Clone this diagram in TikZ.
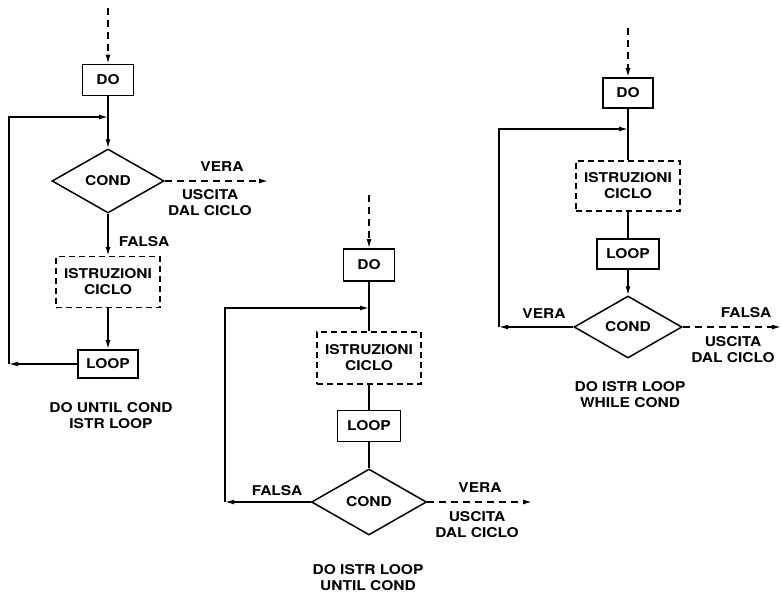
\documentclass[tikz,border=0pt]{standalone}
\usepackage{fontspec}
\newfontfamily\schemafont[FakeStretch=1.15]{TeX Gyre Heros}
\usetikzlibrary{shapes.geometric,arrows.meta}

\tikzset{
	blocco/.style={draw, line width=1.8pt, minimum width=51pt, minimum height=31pt, inner sep=0pt},
	istr/.style={draw, line width=1.5pt, dash pattern=on 6pt off 4pt, minimum width=104pt, minimum height=51pt, align=center, inner sep=0pt},
	cond/.style={draw, diamond, line width=1.5pt, minimum width=112pt, minimum height=64pt, inner sep=0pt},
	flusso/.style={line width=1.4pt},
	freccia/.style={flusso, -{Latex[length=9pt,width=5pt]}},
	tratteggio/.style={freccia, dash pattern=on 7pt off 5pt},
	etich/.style={align=center, inner sep=0pt},
}

\begin{document}
\begin{tikzpicture}[x=1pt, y=-1pt, font=\schemafont\bfseries\fontsize{13.5}{16}\selectfont]
	\useasboundingbox (0,0) rectangle (783,595);

	% DO UNTIL
	\coordinate (a0) at (108,8);
	\node[blocco] (doA) at (108,80) {DO};
	\coordinate (gA) at (108,117);
	\node[cond] (condA) at (108,181) {COND};
	\node[istr] (istrA) at (108,282) {ISTRUZIONI\\CICLO};
	\node[blocco, minimum width=60pt, minimum height=28pt] (loopA) at (108,364) {LOOP};
	\coordinate (bA) at (9,364);
	\coordinate (uA) at (268,181);
	\node[etich] (veraA) at (222,167) {VERA};
	\node[etich] (uscA) at (210,203) {USCITA\\DAL CICLO};
	\node[etich] (falsaA) at (144,242) {FALSA};
	\node[etich] (titA) at (111,416) {DO UNTIL COND\\ISTR LOOP};
	\draw[tratteggio] (a0) -- (doA);
	\draw[flusso] (doA) -- (gA);
	\draw[freccia] (gA) -- (condA);
	\draw[tratteggio] (condA.east) -- (uA);
	\draw[freccia] (condA) -- (istrA);
	\draw[freccia] (istrA) -- (loopA);
	\draw[freccia] (loopA) -- (bA);
	\draw[freccia] (bA) |- (gA);

	% DO ... LOOP UNTIL
	\coordinate (a1) at (369,195);
	\node[blocco, minimum height=32pt] (doB) at (369,265) {DO};
	\coordinate (gB) at (369,308);
	\node[istr, minimum height=52pt] (istrB) at (369,358) {ISTRUZIONI\\CICLO};
	\node[blocco, minimum width=63pt] (loopB) at (369,426) {LOOP};
	\node[cond, minimum width=115pt, minimum height=66pt] (condB) at (369,502) {COND};
	\coordinate (bB) at (225,502);
	\coordinate (uB) at (532,502);
	\node[etich] (falsaB) at (277,491) {FALSA};
	\node[etich] (veraB) at (480,488) {VERA};
	\node[etich] (uscB) at (477,525) {USCITA\\DAL CICLO};
	\node[etich] (titB) at (368,578) {DO ISTR LOOP\\UNTIL COND};
	\draw[tratteggio] (a1) -- (doB);
	\draw[flusso] (doB) -- (gB) -- (istrB);
	\draw[flusso] (istrB) -- (loopB);
	\draw[flusso] (loopB) -- (condB);
	\draw[freccia] (condB.west) -- (bB);
	\draw[freccia] (bB) |- (gB);
	\draw[tratteggio] (condB.east) -- (uB);

	% DO ... LOOP WHILE
	\coordinate (a2) at (628,28);
	\node[blocco, minimum width=50pt, minimum height=30pt] (doC) at (628,93) {DO};
	\coordinate (gC) at (628,129);
	\node[istr, minimum height=50pt] (istrC) at (628,186) {ISTRUZIONI\\CICLO};
	\node[blocco, minimum width=62pt, minimum height=30pt] (loopC) at (628,254) {LOOP};
	\node[cond, minimum width=108pt, minimum height=62pt] (condC) at (628,327) {COND};
	\coordinate (bC) at (499,327);
	\coordinate (uC) at (781,327);
	\node[etich] (veraC) at (544,314) {VERA};
	\node[etich] (falsaC) at (746,313) {FALSA};
	\node[etich] (uscC) at (733,350) {USCITA\\DAL CICLO};
	\node[etich] (titC) at (630,395) {DO ISTR LOOP\\WHILE COND};
	\draw[tratteggio] (a2) -- (doC);
	\draw[flusso] (doC) -- (gC) -- (istrC);
	\draw[flusso] (istrC) -- (loopC);
	\draw[freccia] (loopC) -- (condC);
	\draw[freccia] (condC.west) -- (bC);
	\draw[freccia] (bC) |- (gC);
	\draw[tratteggio] (condC.east) -- (uC);
\end{tikzpicture}
\end{document}
